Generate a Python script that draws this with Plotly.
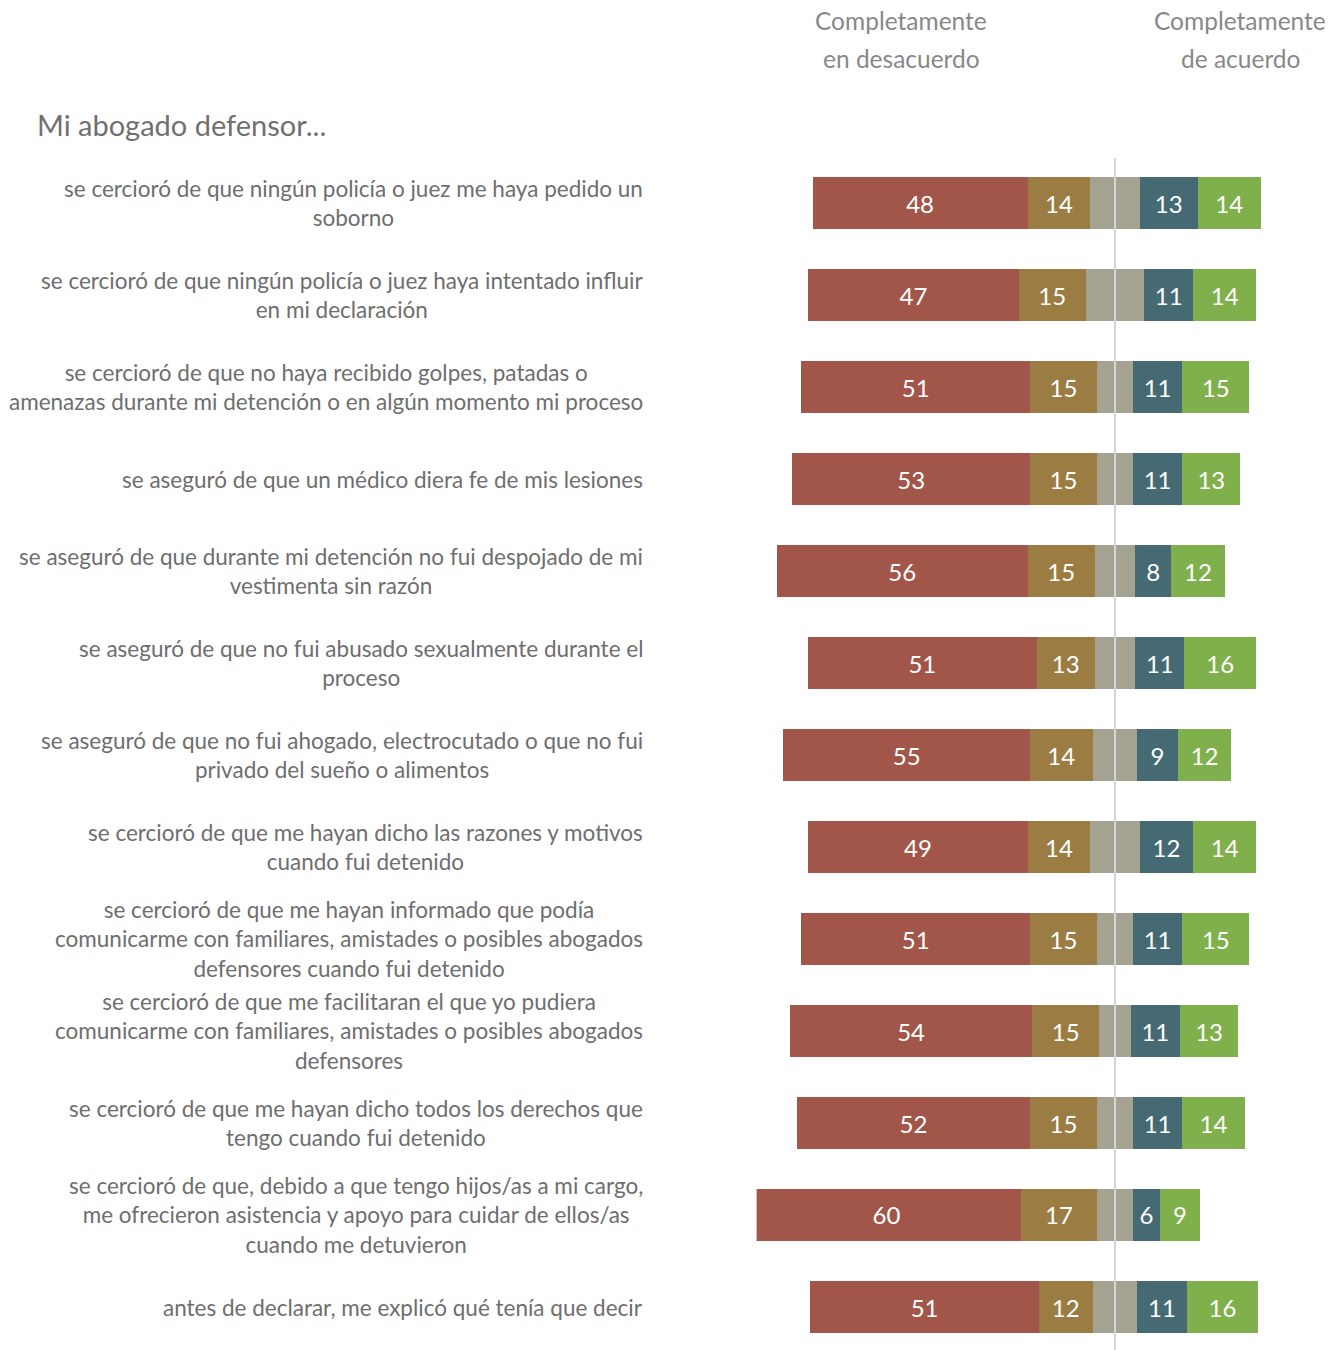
import plotly.graph_objects as go

W, H = 1343, 1350

categories = [
    "se cercioró de que ningún policía o juez me haya pedido un<br>soborno",
    "se cercioró de que ningún policía o juez haya intentado influir<br>en mi declaración",
    "se cercioró de que no haya recibido golpes, patadas o<br>amenazas durante mi detención o en algún momento mi proceso",
    "se aseguró de que un médico diera fe de mis lesiones",
    "se aseguró de que durante mi detención no fui despojado de mi<br>vestimenta sin razón",
    "se aseguró de que no fui abusado sexualmente durante el<br>proceso",
    "se aseguró de que no fui ahogado, electrocutado o que no fui<br>privado del sueño o alimentos",
    "se cercioró de que me hayan dicho las razones y motivos<br>cuando fui detenido",
    "se cercioró de que me hayan informado que podía<br>comunicarme con familiares, amistades o posibles abogados<br>defensores cuando fui detenido",
    "se cercioró de que me facilitaran el que yo pudiera<br>comunicarme con familiares, amistades o posibles abogados<br>defensores",
    "se cercioró de que me hayan dicho todos los derechos que<br>tengo cuando fui detenido",
    "se cercioró de que, debido a que tengo hijos/as a mi cargo,<br>me ofrecieron asistencia y apoyo para cuidar de ellos/as<br>cuando me detuvieron",
    "antes de declarar, me explicó qué tenía que decir",
]

completamente_desacuerdo = [48, 47, 51, 53, 56, 51, 55, 49, 51, 54, 52, 60, 51]
desacuerdo = [14, 15, 15, 15, 15, 13, 14, 14, 15, 15, 15, 17, 12]
neutral = [11, 13, 8, 8, 9, 9, 10, 11, 8, 7, 8, 8, 10]
de_acuerdo = [13, 11, 11, 11, 8, 11, 9, 12, 11, 11, 11, 6, 11]
completamente_acuerdo = [14, 14, 15, 13, 12, 16, 12, 14, 15, 13, 14, 9, 16]

header_left = ["Completamente", "en desacuerdo"]
header_right = ["Completamente", "de acuerdo"]
title_text = "Mi abogado defensor..."

C_RED = "#A2564A"
C_OLIVE = "#9B7D44"
C_GRAY = "#A4A391"
C_TEAL = "#466A73"
C_GREEN = "#80B04B"

FONT = "Lato"
ypos = list(range(len(categories)))


def px_x(p):
    return p / W


def px_y(p):
    return 1 - p / H


fig = go.Figure()


def add(vals, color, show_text, sign):
    fig.add_trace(go.Bar(
        y=ypos,
        x=[sign * v for v in vals],
        orientation="h",
        marker=dict(color=color, line=dict(width=0)),
        width=0.565,
        text=[str(v) for v in vals] if show_text else None,
        textposition="inside" if show_text else "none",
        insidetextanchor="middle",
        textangle=0,
        constraintext="none",
        textfont=dict(family=FONT, size=24, color="white"),
        hoverinfo="skip",
        showlegend=False,
    ))


half_neutral = [n / 2 for n in neutral]
add(half_neutral, C_GRAY, False, -1)
add(desacuerdo, C_OLIVE, True, -1)
add(completamente_desacuerdo, C_RED, True, -1)
add(half_neutral, C_GRAY, False, 1)
add(de_acuerdo, C_TEAL, True, 1)
add(completamente_acuerdo, C_GREEN, True, 1)

# geometry (reference pixel coordinates)
center_px = 1115
scale = 4.48
xr = [-80, 48]
x0_px = center_px + xr[0] * scale
x1_px = center_px + xr[1] * scale

row0_px = 203
step = 92
yr = [12.4, -0.6]
ytop_px = row0_px + yr[1] * step
ybot_px = row0_px + yr[0] * step

fig.update_layout(
    width=W, height=H,
    margin=dict(l=0, r=0, t=0, b=0),
    paper_bgcolor="white", plot_bgcolor="white",
    barmode="relative",
    bargap=0,
    xaxis=dict(domain=[px_x(x0_px), px_x(x1_px)], range=xr, visible=False, fixedrange=True),
    yaxis=dict(domain=[px_y(ybot_px), px_y(ytop_px)], range=yr, visible=False, fixedrange=True),
    font=dict(family=FONT),
)

fig.add_shape(type="line", xref="x", yref="paper", x0=0, x1=0,
              y0=0, y1=px_y(158), line=dict(color="#D4D4D4", width=2), layer="above")

for i, c in enumerate(categories):
    fig.add_annotation(x=px_x(645), xref="paper", y=i, yref="y", text=c,
                       xanchor="right", yanchor="middle", align="center", showarrow=False,
                       font=dict(family=FONT, size=22.5, color="#6E6E6E"))

fig.add_annotation(x=px_x(35), xref="paper", y=px_y(125), yref="paper", text=title_text,
                   xanchor="left", yanchor="middle", showarrow=False,
                   font=dict(family=FONT, size=29, color="#707070"))

for cx, lines in ((901, header_left), (1240, header_right)):
    for ly, line in zip((21, 58), lines):
        fig.add_annotation(x=px_x(cx), xref="paper", y=px_y(ly), yref="paper", text=line,
                           xanchor="center", yanchor="middle", showarrow=False,
                           font=dict(family=FONT, size=24.5, color="#888888"))

fig.write_html(
    "out.html",
    config={"displayModeBar": False, "staticPlot": True},
    post_script="document.body.style.margin='0px';document.body.style.overflow='hidden';",
)
